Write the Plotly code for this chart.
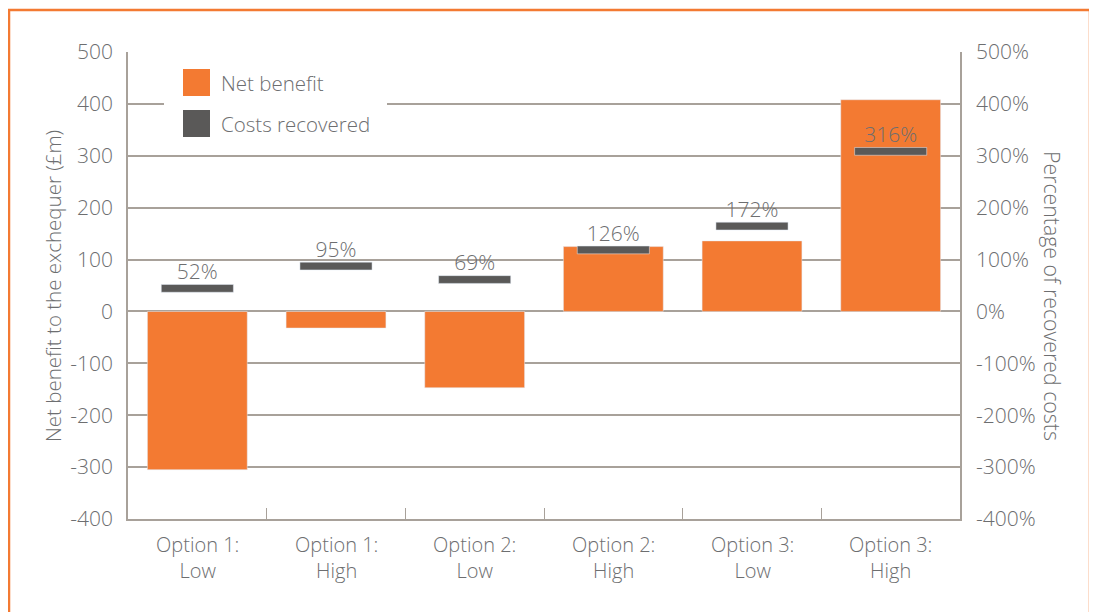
import plotly.graph_objects as go

categories = ["Option 1: Low", "Option 1: High", "Option 2: Low",
              "Option 2: High", "Option 3: Low", "Option 3: High"]
net_benefit = [-305, -32, -147, 125, 136, 408]
costs_recovered = [0.52, 0.95, 0.69, 1.26, 1.72, 3.16]
pct_labels = ["52%", "95%", "69%", "126%", "172%", "316%"]
left_tick_vals = [-400, -300, -200, -100, 0, 100, 200, 300, 400, 500]
left_tick_text = ["-400", "-300", "-200", "-100", "0", "100", "200", "300", "400", "500"]
right_tick_vals = [-4, -3, -2, -1, 0, 1, 2, 3, 4, 5]
right_tick_text = ["-400%", "-300%", "-200%", "-100%", "0%", "100%", "200%", "300%", "400%", "500%"]

OFF = 8  # page body margin
W, H = 1097 - OFF, 612 - OFF
L, R, T, B = 128 - OFF, 960 - OFF, 52 - OFF, 519 - OFF
ORANGE = "#F37A32"
DARK = "#5A5958"
GRID = "#A8A19A"
TXT = "#6D6E70"
FONT = "Open Sans"
FW = 300

def px(x):
    return (x - OFF - L) / (R - L)

def py(y):
    return (B - (y - OFF)) / (B - T)

fnt = lambda s: dict(family=FONT, size=s, color=TXT, weight=FW)

fig = go.Figure()
fig.add_trace(go.Bar(x=categories, y=net_benefit, marker_color=ORANGE,
                     width=0.72, name="Net benefit", showlegend=False,
                     yaxis="y"))
dash_h = 0.15
fig.add_trace(go.Bar(x=categories, y=[-dash_h] * len(costs_recovered),
                     base=costs_recovered, marker_color=DARK, width=0.52,
                     name="Costs recovered", showlegend=False, yaxis="y2"))
fig.add_trace(go.Scatter(x=categories, y=costs_recovered, mode="text",
                         text=pct_labels, textposition="top center",
                         textfont=fnt(21),
                         showlegend=False, yaxis="y2", cliponaxis=False))

shapes = []
shapes.append(dict(type="rect", xref="paper", yref="paper",
                   x0=px(9), x1=px(1090), y0=py(640), y1=py(10),
                   line=dict(color=ORANGE, width=2.5), layer="below"))
shapes.append(dict(type="rect", xref="paper", yref="paper",
                   x0=px(164), x1=px(387), y0=py(146), y1=py(62),
                   fillcolor="white", line=dict(width=0), layer="above"))
shapes.append(dict(type="rect", xref="paper", yref="paper",
                   x0=px(183), x1=px(210), y0=py(96), y1=py(69),
                   fillcolor=ORANGE, line=dict(width=0), layer="above"))
shapes.append(dict(type="rect", xref="paper", yref="paper",
                   x0=px(183), x1=px(210), y0=py(137), y1=py(110),
                   fillcolor=DARK, line=dict(width=0), layer="above"))

annotations = [
    dict(xref="paper", yref="paper", x=px(219), y=py(83), text="Net benefit",
         showarrow=False, xanchor="left", yanchor="middle", font=fnt(20.5)),
    dict(xref="paper", yref="paper", x=px(219), y=py(124), text="Costs recovered",
         showarrow=False, xanchor="left", yanchor="middle", font=fnt(20.5)),
    dict(xref="paper", yref="paper", x=px(53), y=py(286),
         text="Net benefit to the exchequer (£m)", textangle=-90,
         showarrow=False, xanchor="center", yanchor="middle", font=fnt(20.5)),
    dict(xref="paper", yref="paper", x=px(1053), y=py(296),
         text="Percentage of recovered costs", textangle=90,
         showarrow=False, xanchor="center", yanchor="middle", font=fnt(21.3)),
]
# two-line category labels under the x axis
for cat in categories:
    first, second = cat.split(": ")
    annotations.append(dict(xref="x", yref="paper", x=cat, y=py(557),
                            text=first + ":<br>" + second, showarrow=False,
                            xanchor="center", yanchor="middle", font=fnt(20)))

fig.update_layout(
    width=W, height=H,
    margin=dict(l=L, r=W - R, t=T, b=H - B, autoexpand=False),
    paper_bgcolor="white", plot_bgcolor="white",
    barmode="overlay",
    showlegend=False,
    font=fnt(20),
    xaxis=dict(showline=True, linecolor=GRID, linewidth=1.5,
               ticks="inside", tickson="boundaries", ticklen=11,
               tickcolor=GRID, tickwidth=1.2, showticklabels=False,
               showgrid=False),
    yaxis=dict(range=[-400, 500], tickvals=left_tick_vals, ticktext=left_tick_text,
               showgrid=True, gridcolor=GRID,
               gridwidth=1.5, zeroline=True, zerolinecolor=GRID,
               zerolinewidth=1.5, showline=True, linecolor=GRID,
               linewidth=1.5, ticks="", ticklabelstandoff=9,
               tickfont=fnt(21)),
    yaxis2=dict(range=[-4, 5], tickvals=right_tick_vals, ticktext=right_tick_text,
                overlaying="y", side="right", showgrid=False, zeroline=False,
                showline=True, linecolor=GRID, linewidth=1.5, ticks="",
                ticklabelstandoff=10, tickfont=fnt(21)),
    shapes=shapes,
    annotations=annotations,
)

fig.write_html("out.html")
